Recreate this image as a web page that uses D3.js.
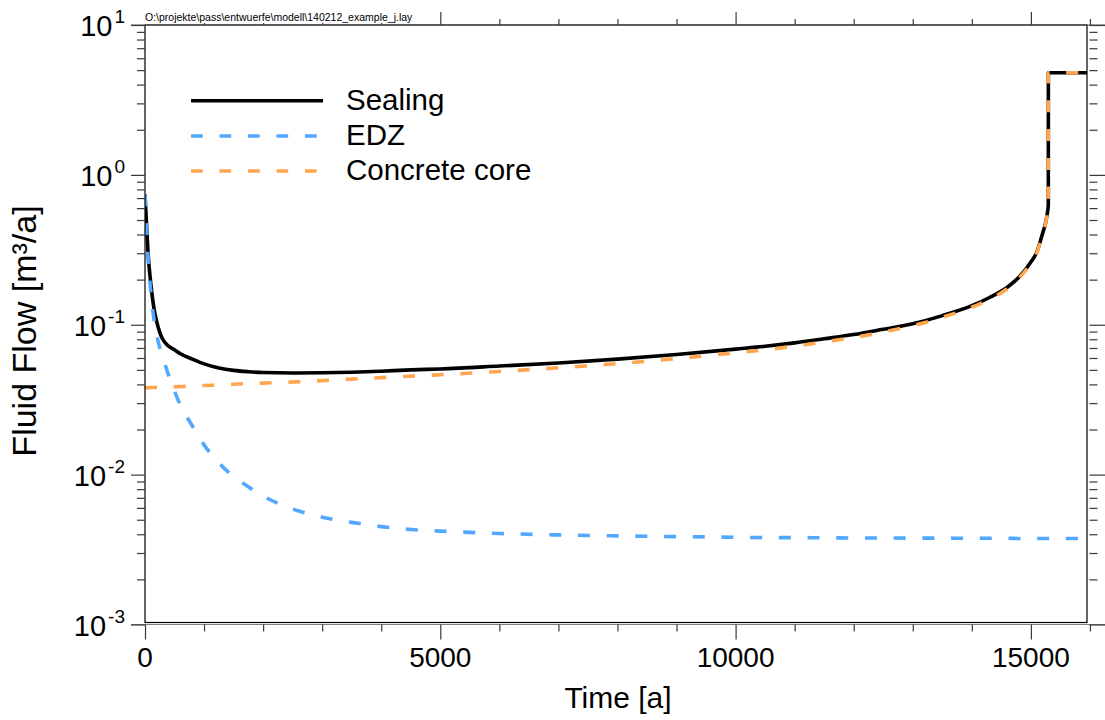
<!DOCTYPE html>
<html>
<head>
<meta charset="utf-8">
<script src="https://cdn.jsdelivr.net/npm/d3@7"></script>
<style>
  body { margin: 0; background: #fff; }
  svg { display: block; }
  text { font-family: "Liberation Sans", Arial, Helvetica, sans-serif; fill: #000; }
</style>
</head>
<body>
<svg id="chart" width="1105" height="720"></svg>
<script>
// Time axis (years)
const time = [0, 20, 50, 100, 150, 200, 250, 300, 400, 500,
  600, 800, 1000, 1250, 1500, 1750, 2000, 2500, 3000, 3500,
  4000, 4500, 5000, 6000, 7000, 8000, 9000, 10000, 10500, 11000,
  11500, 12000, 12500, 13000, 13500, 14000, 14300, 14600, 14800, 15000,
  15100, 15200, 15250, 15280, 15295, 15296, 15950];

// Fluid flow through the whole sealing [m³/a]
const sealing = [0.74, 0.52, 0.31, 0.185, 0.13, 0.104, 0.089, 0.080, 0.072, 0.068,
  0.064, 0.059, 0.0548, 0.0515, 0.0496, 0.0486, 0.048, 0.0477, 0.0478, 0.0482,
  0.049, 0.050, 0.0507, 0.053, 0.0556, 0.059, 0.0633, 0.0688, 0.0718, 0.0757,
  0.0806, 0.086, 0.0933, 0.1015, 0.115, 0.134, 0.152, 0.178, 0.208, 0.262,
  0.305, 0.41, 0.48, 0.56, 0.63, 4.8, 4.8];

// Fluid flow through the excavation damaged zone [m³/a]
const edz = [0.74, 0.50, 0.29, 0.162, 0.11, 0.085, 0.070, 0.061, 0.046, 0.036,
  0.029, 0.0212, 0.0158, 0.012, 0.0097, 0.0083, 0.0072, 0.0059, 0.0052, 0.0048,
  0.0045, 0.0043, 0.0042, 0.00405, 0.00396, 0.0039, 0.00386, 0.00382, 0.0038, 0.0038,
  0.00379, 0.00378, 0.00378, 0.00377, 0.00377, 0.00376, 0.00376, 0.00376, 0.00375, 0.00375,
  0.00375, 0.00375, 0.00375, 0.00375, 0.00375, 0.00375, 0.00375];

// Fluid flow through the concrete core [m³/a]
const concreteCore = [0.038, 0.038, 0.038, 0.0381, 0.0381, 0.0382, 0.0382, 0.0383, 0.0384, 0.0386,
  0.0387, 0.039, 0.0393, 0.0397, 0.0401, 0.0405, 0.0408, 0.0415, 0.0424, 0.0434,
  0.0444, 0.0454, 0.0464, 0.0488, 0.0516, 0.055, 0.0595, 0.065, 0.068, 0.072,
  0.0768, 0.0822, 0.0895, 0.0985, 0.112, 0.131, 0.148, 0.174, 0.205, 0.258,
  0.303, 0.405, 0.475, 0.555, 0.625, 4.8, 4.8];

const seriesNames = ["Sealing", "EDZ", "Concrete core"];
const seriesColors = ["#000000", "#52a8ff", "#ffa64f"];
const seriesDashed = [false, true, true];

const xMajorTicks = [0, 5000, 10000, 15000];
const xTickLabels = ["0", "5000", "10000", "15000"];
const yDecades = [-3, -2, -1, 0, 1];

const fileLabel = "O:\\projekte\\pass\\entwuerfe\\modell\\140212_example_j.lay";
const xTitle = "Time [a]";
const yTitle = "Fluid Flow [m³/a]";

const svg = d3.select("#chart");

// plot frame
const frame = { left: 145, right: 1087, top: 25, bottom: 622.5 };

const x = d3.scaleLinear().domain([0, 15950]).range([frame.left, frame.right]);
const y = d3.scaleLog().domain([1e-3, 1e1]).range([624.5, 25]);

const tickColor = "#3a3a3a";

// ---- curves ----
svg.append("clipPath").attr("id", "plotClip")
  .append("rect")
  .attr("x", frame.left).attr("y", frame.top)
  .attr("width", frame.right - frame.left + 3)
  .attr("height", frame.bottom - frame.top);

const series = [sealing, edz, concreteCore];
const line = d3.line()
  .curve(d3.curveMonotoneX)
  .x(d => x(d[0]))
  .y(d => y(d[1]));

const plot = svg.append("g").attr("clip-path", "url(#plotClip)");
series.forEach((vals, i) => {
  plot.append("path")
    .datum(time.map((t, k) => [t, vals[k]]))
    .attr("fill", "none")
    .attr("stroke", seriesColors[i])
    .attr("stroke-width", 3.6)
    .attr("stroke-linejoin", "round")
    .attr("stroke-dasharray", seriesDashed[i] ? "12,16.7" : null)
    .attr("d", line);
});

// ---- frame ----
svg.append("rect")
  .attr("x", frame.left).attr("y", frame.top)
  .attr("width", frame.right - frame.left)
  .attr("height", frame.bottom - frame.top)
  .attr("fill", "none").attr("stroke", "#000").attr("stroke-width", 1.2);

// ---- x axes (bottom & top) ----
const xMinor = d3.range(0, 16001, 1000).filter(v => v % 5000 !== 0);
const xMajorAll = [0, 5000, 10000, 15000];

function styleAxis(g) {
  g.select(".domain").remove();
  g.selectAll(".tick line").attr("stroke", tickColor).attr("stroke-width", 1.2);
  g.selectAll(".tick text").remove();
}

// bottom axis line, extending beyond the frame
svg.append("line")
  .attr("x1", 131).attr("x2", 1105).attr("y1", 624.5).attr("y2", 624.5)
  .attr("stroke", "#808080").attr("stroke-width", 1.2);

svg.append("g").attr("transform", "translate(0,624.5)")
  .call(d3.axisBottom(x).tickValues(xMinor).tickSize(7).tickFormat(""))
  .call(styleAxis);
svg.append("g").attr("transform", "translate(0,624.5)")
  .call(d3.axisBottom(x).tickValues(xMajorAll).tickSize(15).tickFormat(""))
  .call(styleAxis);

// x tick labels
svg.append("g").selectAll("text")
  .data(xMajorTicks)
  .join("text")
  .attr("x", d => x(d))
  .attr("y", 667)
  .attr("text-anchor", "middle")
  .attr("font-size", 28)
  .text((d, i) => xTickLabels[i]);

// top axis line and ticks
svg.append("line")
  .attr("x1", 131).attr("x2", 1105).attr("y1", 25).attr("y2", 25)
  .attr("stroke", "#555").attr("stroke-width", 1.2);
svg.append("g").attr("transform", "translate(0,25)")
  .call(d3.axisTop(x).tickValues(xMinor).tickSize(6).tickFormat(""))
  .call(styleAxis);
svg.append("g").attr("transform", "translate(0,25)")
  .call(d3.axisTop(x).tickValues(xMajorAll.filter(v => v > 0)).tickSize(13).tickFormat(""))
  .call(styleAxis);

// ---- y axes (left & right) ----
const yMajor = yDecades.map(e => Math.pow(10, e));
const yMinor = [];
yDecades.slice(0, -1).forEach(e => {
  for (let m = 2; m <= 9; m++) yMinor.push(m * Math.pow(10, e));
});

svg.append("g").attr("transform", `translate(${frame.left},0)`)
  .call(d3.axisLeft(y).tickValues(yMinor).tickSize(8).tickFormat(""))
  .call(styleAxis);
svg.append("g").attr("transform", `translate(${frame.left},0)`)
  .call(d3.axisLeft(y).tickValues(yMajor).tickSize(14).tickFormat(""))
  .call(styleAxis);

svg.append("g").attr("transform", "translate(1089.5,0)")
  .call(d3.axisRight(y).tickValues(yMinor).tickSize(8).tickFormat(""))
  .call(styleAxis);
svg.append("g").attr("transform", "translate(1089.5,0)")
  .call(d3.axisRight(y).tickValues(yMajor).tickSize(16).tickFormat(""))
  .call(styleAxis);

// y tick labels: 10 with superscript exponent
const yLab = svg.append("g").selectAll("text")
  .data(yDecades)
  .join("text")
  .attr("x", 125)
  .attr("y", d => y(Math.pow(10, d)) + 11)
  .attr("text-anchor", "end")
  .attr("font-size", 29);
yLab.append("tspan").text("10");
yLab.append("tspan")
  .attr("font-size", 19)
  .attr("dx", 2)
  .attr("dy", -13)
  .text(d => String(d));

// ---- file path label ----
svg.append("rect")
  .attr("x", 143).attr("y", 8).attr("width", 280).attr("height", 15)
  .attr("fill", "#fff");
svg.append("text")
  .attr("x", 145).attr("y", 21)
  .attr("font-size", 10.5)
  .text(fileLabel);

// ---- axis titles ----
svg.append("text")
  .attr("x", 618).attr("y", 708)
  .attr("text-anchor", "middle")
  .attr("font-size", 30)
  .text(xTitle);

svg.append("text")
  .attr("transform", "translate(36,331) rotate(-90)")
  .attr("text-anchor", "middle")
  .attr("font-size", 34)
  .text(yTitle);

// ---- legend ----
const legend = svg.append("g");
const legendRows = [100.7, 136, 171];
seriesNames.forEach((name, i) => {
  legend.append("line")
    .attr("x1", 191).attr("x2", 323)
    .attr("y1", legendRows[i]).attr("y2", legendRows[i])
    .attr("stroke", seriesColors[i])
    .attr("stroke-width", 3.4)
    .attr("stroke-dasharray", seriesDashed[i] ? "11.7,16.8" : null);
  legend.append("text")
    .attr("x", 346).attr("y", legendRows[i] + 9)
    .attr("font-size", 29.5)
    .text(name);
});
</script>
</body>
</html>
